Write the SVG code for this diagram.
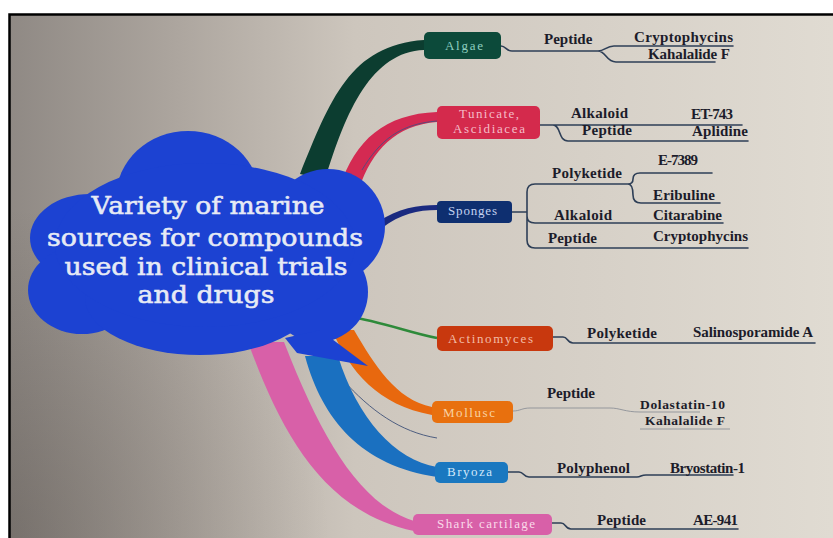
<svg xmlns="http://www.w3.org/2000/svg" width="833" height="538" viewBox="0 0 833 538">
<defs>
<linearGradient id="bg" x1="0" y1="0" x2="1" y2="0">
<stop offset="0" stop-color="#8f8984"/>
<stop offset="0.2" stop-color="#aca59e"/>
<stop offset="0.42" stop-color="#cdc6bd"/>
<stop offset="1" stop-color="#e0dbd2"/>
</linearGradient>
<radialGradient id="shade" cx="0" cy="538" r="330" gradientUnits="userSpaceOnUse">
<stop offset="0" stop-color="#3c3632" stop-opacity="0.3"/>
<stop offset="1" stop-color="#3c3632" stop-opacity="0"/>
</radialGradient>
<style>
.lbl{font-family:"Liberation Serif","Times New Roman",serif;font-weight:bold;font-size:15px;fill:#1c1c2a}
.nt{font-family:"Liberation Serif","Times New Roman",serif;font-size:13px}
.ct{font-family:"DejaVu Serif","Liberation Serif",serif;font-size:25px;fill:#e6eaf5;stroke:#e6eaf5;stroke-width:0.6;text-anchor:middle}
.con{fill:none;stroke:#2e3f57;stroke-width:1.6;stroke-linecap:round}
.faint{fill:none;stroke:#858a92;stroke-width:1;opacity:0.8}
</style>
</defs>
<rect width="833" height="538" fill="#ffffff"/>
<rect x="9" y="14" width="824" height="524" fill="url(#bg)"/>
<rect x="9" y="14" width="824" height="524" fill="url(#shade)"/>
<path d="M9.5,538 V14.5 H833" fill="none" stroke="#000" stroke-width="2.5"/>

<g id="ribbons">
<path d="M300,174 C330,100 350,45 424,40 L424,50 C372,52 346,110 325,180 Z" fill="#0c3d30"/>
<path d="M340,187 C355,140 385,114 437,112 L437,122 C396,125 372,150 359,189 Z" fill="#d42a52"/>
<path d="M362,170 C380,140 400,124 437,121" fill="none" stroke="#5a4a7a" stroke-width="1"/>
<path d="M378,222 C398,208 418,205 437,205 L437,210 C418,210 400,214 382,228 Z" fill="#1a2a80"/>
<path d="M350,317 C380,321 410,333 437,338" fill="none" stroke="#2e8a3a" stroke-width="2.5"/>
<path d="M332,330 C350,372 378,405 432,415 L432,407 C396,400 374,364 354,330 Z" fill="#e8680e"/>
<path d="M343,380 C370,410 400,432 437,438" fill="none" stroke="#4e5e80" stroke-width="1"/>
<path d="M305,356 C322,420 362,466 437,477 L437,467 C395,460 357,418 338,356 Z" fill="#1a70c0"/>
<path d="M248,342 C280,430 322,512 414,531 L414,521 C360,504 322,440 284,342 Z" fill="#d860a8"/>
</g>

<g id="cloud" fill="#1c42d2">
<ellipse cx="188" cy="198" rx="72" ry="67"/>
<ellipse cx="90" cy="238" rx="60" ry="44"/>
<ellipse cx="82" cy="290" rx="54" ry="44"/>
<ellipse cx="200" cy="298" rx="115" ry="57"/>
<circle cx="328" cy="226" r="57"/>
<circle cx="318" cy="292" r="50"/>
<ellipse cx="205" cy="245" rx="150" ry="82"/>
<path d="M320,330 L368,366 L297,353 L285,338 Z"/>
<text class="ct" x="208" y="214" textLength="233" lengthAdjust="spacingAndGlyphs">Variety of marine</text>
<text class="ct" x="205" y="246" textLength="316" lengthAdjust="spacingAndGlyphs">sources for compounds</text>
<text class="ct" x="206" y="275" textLength="283" lengthAdjust="spacingAndGlyphs">used in clinical trials</text>
<text class="ct" x="206" y="303" textLength="137" lengthAdjust="spacingAndGlyphs">and drugs</text>
</g>

<g id="connectors">
<path class="con" d="M501,46 C506,46 506,51 512,51 H598 C605,51 606,46 614,46 H733 M598,51 C606,51 606,62 616,62 H715"/>
<path class="con" d="M540,125 H742 M553,125 C561,125 558,141 568,141 H748"/>
<path class="con" d="M512,212 H527 M527,212 V192 Q527,184 535,184 H628 M527,212 V240 Q527,248 535,248 H748 M527,216 Q527,223 535,223 H723 M628,184 Q633,184 633,179 Q633,173 640,173 H712 M628,184 Q633,184 633,195 Q633,203 641,203 H720"/>
<path class="con" d="M553,337 H563 C568,337 567,343 573,343 H815"/>
<path class="faint" d="M513,411 C520,411 522,408 530,408 H610 C620,408 625,412 640,412 H700 M640,429 H730"/>
<path class="con" d="M508,472 H519 C524,472 523,477 529,477 H637 C641,477 641,475 646,475 H733"/>
<path class="con" d="M552,523 H561 C566,523 565,529 571,529 H738"/>
</g>

<g id="algae">
<rect x="424" y="32" width="77" height="27" rx="5" fill="#0c4a3a"/>
<text class="nt" x="445" y="50" fill="#8fcfc0" textLength="38" lengthAdjust="spacing">Algae</text>
<text class="lbl" x="544" y="44">Peptide</text>
<text class="lbl" x="634" y="42" textLength="99">Cryptophycins</text>
<text class="lbl" x="648" y="59" textLength="82">Kahalalide F</text>
</g>

<g id="tunicate">
<rect x="437" y="106" width="103" height="33" rx="5" fill="#d42a4c"/>
<text class="nt" x="489" y="118" fill="#f5bcc8" text-anchor="middle" textLength="60" lengthAdjust="spacing">Tunicate,</text>
<text class="nt" x="489" y="133" fill="#f5bcc8" text-anchor="middle" textLength="72" lengthAdjust="spacing">Ascidiacea</text>
<text class="lbl" x="571" y="118" textLength="57">Alkaloid</text>
<text class="lbl" x="691" y="119" textLength="42">ET-743</text>
<text class="lbl" x="582" y="135" textLength="50">Peptide</text>
<text class="lbl" x="692" y="136" textLength="56">Aplidine</text>
</g>

<g id="sponges">
<rect x="437" y="201" width="75" height="22" rx="4" fill="#0e2f70"/>
<text class="nt" x="448" y="215" fill="#c4d2f0" textLength="49" lengthAdjust="spacing">Sponges</text>
<text class="lbl" x="658" y="165" textLength="40">E-7389</text>
<text class="lbl" x="552" y="178" textLength="70">Polyketide</text>
<text class="lbl" x="653" y="200" textLength="62">Eribuline</text>
<text class="lbl" x="554" y="220" textLength="58">Alkaloid</text>
<text class="lbl" x="653" y="220" textLength="69">Citarabine</text>
<text class="lbl" x="548" y="243" textLength="49">Peptide</text>
<text class="lbl" x="653" y="241" textLength="95">Cryptophycins</text>
</g>

<g id="actinomyces">
<rect x="437" y="326" width="116" height="25" rx="5" fill="#c8380e"/>
<text class="nt" x="448" y="343" fill="#f2bca6" textLength="85" lengthAdjust="spacing">Actinomyces</text>
<text class="lbl" x="587" y="338" textLength="70">Polyketide</text>
<text class="lbl" x="693" y="337" textLength="120">Salinosporamide A</text>
</g>

<g id="mollusc">
<rect x="432" y="401" width="81" height="22" rx="5" fill="#e8700e"/>
<text class="nt" x="443" y="417" fill="#f8d2a2" textLength="52" lengthAdjust="spacing">Mollusc</text>
<text class="lbl" x="547" y="398" textLength="48">Peptide</text>
<text class="lbl" x="640" y="409" style="font-size:13.5px" textLength="85">Dolastatin-10</text>
<text class="lbl" x="645" y="425" style="font-size:13.5px" textLength="80">Kahalalide F</text>
</g>

<g id="bryoza">
<rect x="435" y="462" width="73" height="21" rx="5" fill="#1a78c0"/>
<text class="nt" x="447" y="476" fill="#d2e8fa" textLength="45" lengthAdjust="spacing">Bryoza</text>
<text class="lbl" x="557" y="473" textLength="73">Polyphenol</text>
<text class="lbl" x="670" y="473" textLength="75">Bryostatin-1</text>
</g>

<g id="shark">
<rect x="413" y="514" width="139" height="21" rx="5" fill="#d860a8"/>
<text class="nt" x="437" y="528" fill="#fadaea" textLength="98" lengthAdjust="spacing">Shark cartilage</text>
<text class="lbl" x="597" y="525" textLength="49">Peptide</text>
<text class="lbl" x="693" y="525" textLength="45">AE-941</text>
</g>
</svg>
